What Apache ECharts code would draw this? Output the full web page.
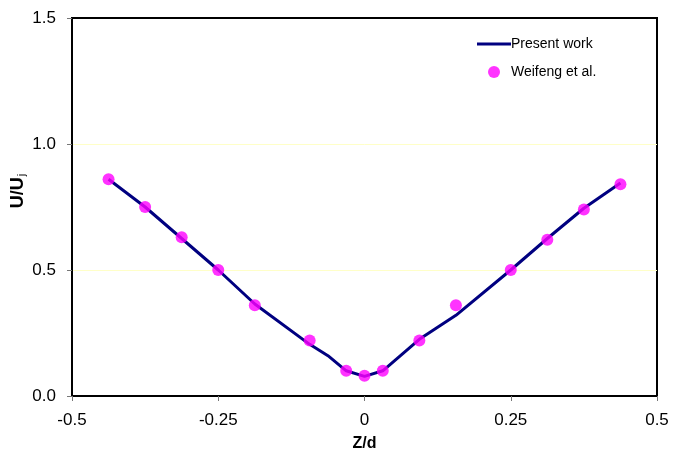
<!DOCTYPE html>
<html>
<head>
<meta charset="utf-8">
<script src="https://cdn.jsdelivr.net/npm/echarts@6/dist/echarts.min.js"></script>
<style>
  html, body { margin: 0; padding: 0; background: #fff; }
  #chart { width: 674px; height: 458px; }
</style>
</head>
<body>
<div id="chart"></div>
<script>
// Velocity profile across the jet: present computation vs. measured points
const presentZ = [-0.4375, -0.375, -0.3125, -0.25, -0.1875, -0.09375, -0.0625, -0.03125, 0, 0.03125, 0.09375, 0.15625, 0.25, 0.3125, 0.375, 0.4375];
const presentU = [0.86, 0.75, 0.625, 0.50, 0.365, 0.205, 0.16, 0.10, 0.078, 0.10, 0.225, 0.32, 0.50, 0.625, 0.745, 0.845];

const weifengZ = [-0.4375, -0.375, -0.3125, -0.25, -0.1875, -0.09375, -0.03125, 0, 0.03125, 0.09375, 0.15625, 0.25, 0.3125, 0.375, 0.4375];
const weifengU = [0.86, 0.75, 0.63, 0.50, 0.36, 0.22, 0.10, 0.08, 0.10, 0.22, 0.36, 0.50, 0.62, 0.74, 0.84];

const xTicks = [-0.5, -0.25, 0, 0.25, 0.5];
const yTicks = [0, 0.5, 1.0, 1.5];

const font = 'Liberation Sans, Arial, sans-serif';
const chart = echarts.init(document.getElementById('chart'));

chart.setOption({
  animation: false,
  backgroundColor: '#fff',
  grid: {
    left: 72, right: 17, top: 18, bottom: 62,
    containLabel: false, outerBoundsMode: 'none',
    show: true, borderColor: '#000', borderWidth: 2, backgroundColor: 'transparent'
  },
  legend: {
    orient: 'vertical',
    left: 472, top: 32,
    itemWidth: 34, itemHeight: 12, itemGap: 14,
    textStyle: { fontFamily: font, fontSize: 14, color: '#000', padding: [0, 0, 0, -5] },
    data: [
      { name: 'Present work', icon: 'path://M0,0H34V3H0Z' },
      { name: 'Weifeng et al.', icon: 'circle' }
    ]
  },
  // Y-axis title with subscript, placed beside the tick labels
  graphic: [{
    type: 'text',
    x: 18, y: 191,
    rotation: Math.PI / 2,
    style: {
      text: '{m|U/U}{s|j}',
      align: 'center', verticalAlign: 'middle',
      rich: {
        m: { fontFamily: font, fontSize: 18, fontWeight: 'bold', fill: '#000' },
        s: { fontFamily: font, fontSize: 11, fill: '#000', verticalAlign: 'bottom', padding: [8, 0, 0, 1] }
      }
    }
  }],
  xAxis: {
    type: 'value',
    min: xTicks[0], max: xTicks[xTicks.length - 1], interval: 0.25,
    name: 'Z/d', nameLocation: 'middle', nameGap: 40,
    nameTextStyle: { fontFamily: font, fontSize: 16, fontWeight: 'bold', color: '#000' },
    axisLine: { onZero: false, lineStyle: { color: '#000', width: 2 } },
    axisTick: { show: true, inside: false, length: 5, lineStyle: { color: '#777' } },
    axisLabel: { fontFamily: font, fontSize: 17, color: '#000', margin: 16 },
    splitLine: { show: false }
  },
  yAxis: {
    type: 'value',
    min: yTicks[0], max: yTicks[yTicks.length - 1], interval: 0.5,
    axisLine: { onZero: false, lineStyle: { color: '#000', width: 2 } },
    axisTick: { show: true, inside: false, length: 5, lineStyle: { color: '#777' } },
    axisLabel: {
      fontFamily: font, fontSize: 17, color: '#000', margin: 16,
      formatter: v => v.toFixed(1)
    },
    splitLine: { show: true, lineStyle: { color: ['transparent', '#ffffc8', '#ffffc8', 'transparent'], width: 1 } }
  },
  series: [
    {
      name: 'Present work',
      type: 'line',
      data: presentZ.map((z, i) => [z, presentU[i]]),
      symbol: 'none',
      lineStyle: { color: '#000080', width: 3 },
      itemStyle: { color: '#000080' },
      z: 2
    },
    {
      name: 'Weifeng et al.',
      type: 'scatter',
      data: weifengZ.map((z, i) => [z, weifengU[i]]),
      symbol: 'circle',
      symbolSize: 12,
      itemStyle: { color: '#ff00ff' },
      z: 3
    }
  ]
});
</script>
</body>
</html>
